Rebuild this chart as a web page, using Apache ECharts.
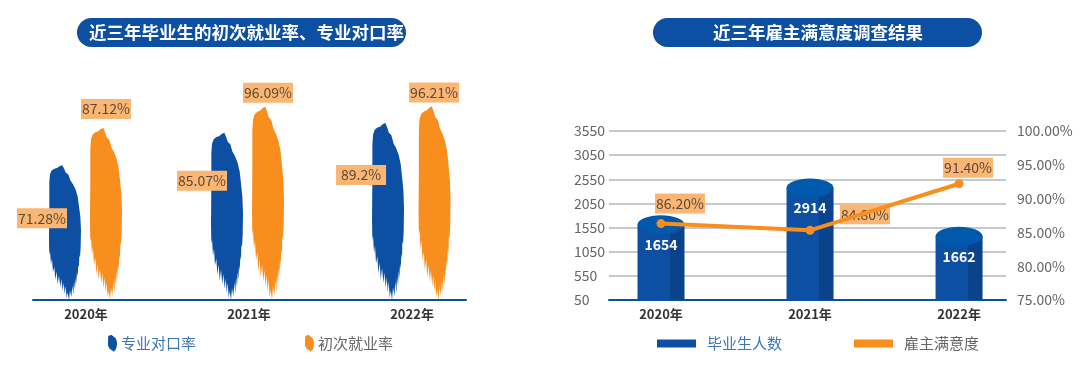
<!DOCTYPE html>
<html>
<head>
<meta charset="utf-8">
<style>
	html, body { margin: 0; padding: 0; background: #fff; }
	#main { width: 1080px; height: 366px; }
</style>
</head>
<body>
<div id="main"></div>
<script src="https://cdn.jsdelivr.net/npm/echarts@6/dist/echarts.min.js"></script>
<script>
var years = [2020, 2021, 2022];

//左图
var matchRate = [71.28, 85.07, 89.2];
var employRate = [87.12, 96.09, 96.21];

//右图 柱高、折线点按图上实际位置读取，和标注的数字并不一致
var graduates = [1610, 2370, 1370];
var graduateLabels = ['1654', '2914', '1662'];
var satisfaction = [86.3, 85.3, 92.2];
var satisfactionLabels = ['86.20%', '84.80%', '91.40%'];

var FONT = '"Noto Sans CJK SC", "Noto Sans", sans-serif';
var BLUE = '#0d4fa2';
var ORANGE = '#f78e1e';
var LABEL_BG = '#fbb673';
var LABEL_COLOR = '#5c4a38';
var BRUSH_MIN = 14; //左图纵轴下限

//笔刷形状
var brushPath = 'M1,50 L3,27 L8,16 L16,11 L24,9 L33,3 L40,1 L46,12 L50,22 L58,28 L64,45 L72,56 L80,72 L86,92 L90,120 L94,150 L96,190 L95,240 L93,270 L91,262 L90,300 L88,290 L86,325 L84,312 L82,345 L80,328 L78,362 L75,340 L73,378 L70,352 L67,385 L63,365 L60,393 L56,372 L53,388 L50,352 L47,376 L44,342 L41,366 L37,332 L34,356 L30,322 L26,348 L23,310 L19,334 L16,296 L12,312 L9,272 L6,290 L3,250 L1,262 L0,215 L1,120 Z';

function pairs(list) {
	return list.map(function(v, i) {
		return [years[i], v];
	});
}

function brushSeries(name, list, color, shifts) {
	return {
		name: name,
		type: 'custom',
		xAxisIndex: 0,
		yAxisIndex: 0,
		itemStyle: { color: color },
		renderItem: function(params, api) {
			var top = api.coord([api.value(0), api.value(1)]);
			var bottom = api.coord([api.value(0), BRUSH_MIN]);
			return {
				type: 'path',
				shape: {
					pathData: brushPath,
					layout: 'cover',
					x: top[0] + shifts[params.dataIndex] - 16,
					y: top[1],
					width: 32,
					height: bottom[1] - top[1]
				},
				style: { fill: color }
			};
		},
		data: pairs(list)
	};
}

//标注单独放一层
function labelSeries(name, list, xAxisIndex, yAxisIndex, z, texts, shifts) {
	return {
		name: name,
		type: 'scatter',
		xAxisIndex: xAxisIndex,
		yAxisIndex: yAxisIndex,
		symbolSize: 0,
		z: z,
		itemStyle: { opacity: 1 },
		label: {
			show: true,
			position: 'inside',
			formatter: function(p) {
				return texts[p.dataIndex];
			},
			fontFamily: FONT,
			fontSize: 14,
			color: LABEL_COLOR,
			backgroundColor: LABEL_BG,
			width: 50,
			height: 20,
			lineHeight: 20,
			align: 'center',
			verticalAlign: 'middle'
		},
		data: pairs(list).map(function(d, i) {
			return { value: d, label: { offset: shifts[i] } };
		})
	};
}

function percentTexts(list) {
	return list.map(function(v) {
		return v + '%';
	});
}

function titleItem(text, left, padLeft, padRight) {
	return {
		text: text,
		left: left,
		top: 18,
		padding: [5, padRight, 5, padLeft],
		backgroundColor: BLUE,
		borderRadius: 15,
		textStyle: {
			color: '#fff',
			fontFamily: FONT,
			fontSize: 17.5,
			fontWeight: 'bold',
			lineHeight: 19
		}
	};
}

function yearAxis(gridIndex, min, max) {
	return {
		type: 'value',
		gridIndex: gridIndex,
		min: min,
		max: max,
		splitLine: { show: false },
		axisTick: { show: false },
		axisLine: { show: true, lineStyle: { color: BLUE, width: 2 } },
		axisLabel: {
			customValues: years,
			formatter: function(v) {
				return v + '年';
			},
			color: '#333',
			fontFamily: FONT,
			fontSize: 13,
			fontWeight: 'bold',
			margin: 8
		}
	};
}

function legendItem(name, color, icon, fill) {
	var item = { name: name, icon: icon, textStyle: { color: color } };
	if(fill) item.itemStyle = { color: fill };
	return item;
}

var option = {
	backgroundColor: '#fff',
	animation: false,
	title: [
		titleItem('近三年毕业生的初次就业率、专业对口率', 77, 12, 2),
		titleItem('近三年雇主满意度调查结果', 653, 60, 59)
	],
	legend: [{
		left: 103,
		top: 330,
		itemWidth: 9,
		itemHeight: 17,
		itemGap: 109,
		symbolKeepAspect: false,
		textStyle: { fontFamily: FONT, fontSize: 15, padding: [0, 0, 0, -1] },
		data: [
			legendItem('专业对口率', '#3e75b8', 'path://' + brushPath),
			legendItem('初次就业率', '#666', 'path://' + brushPath)
		]
	}, {
		left: 652,
		top: 331,
		itemWidth: 39,
		itemHeight: 8,
		itemGap: 72,
		textStyle: { fontFamily: FONT, fontSize: 15, padding: [0, 0, 0, 6] },
		data: [legendItem('毕业生人数', '#3e75b8', 'rect', BLUE), legendItem('雇主满意度', '#666', 'rect')]
	}],
	grid: [
		{ left: 33, width: 433, top: 100, height: 200 },
		{ left: 609, width: 397, top: 131, height: 169 }
	],
	xAxis: [
		yearAxis(0, 2019.675, 2022.331),
		yearAxis(1, 2019.651, 2022.315)
	],
	yAxis: [{
		//左图没有可见的纵轴
		type: 'value',
		gridIndex: 0,
		min: BRUSH_MIN,
		max: 99,
		show: false
	}, {
		type: 'value',
		gridIndex: 1,
		min: 50,
		max: 3550,
		interval: 500,
		axisLine: { show: false },
		axisTick: { show: false },
		splitLine: { lineStyle: { color: '#c6c8cf', width: 2 } },
		axisLabel: {
			color: '#666',
			fontFamily: FONT,
			fontSize: 14,
			align: 'left',
			margin: 35,
			formatter: function(v) {
				return String(v);
			}
		}
	}, {
		type: 'value',
		gridIndex: 1,
		position: 'right',
		min: 75,
		max: 100,
		interval: 5,
		axisLine: { show: false },
		axisTick: { show: false },
		splitLine: { show: false },
		axisLabel: {
			color: '#666',
			fontFamily: FONT,
			fontSize: 14,
			align: 'left',
			margin: 11,
			formatter: function(v) {
				return v.toFixed(2) + '%';
			}
		}
	}],
	series: [
		brushSeries('专业对口率', matchRate, BLUE, [-21, -22, -24]),
		brushSeries('初次就业率', employRate, ORANGE, [20, 19, 22.5]),
		labelSeries('专业对口率标注', matchRate, 0, 0, 3, percentTexts(matchRate), [[-44, 53], [-47, 48], [-51, 52]]),
		labelSeries('初次就业率标注', employRate, 0, 0, 3, percentTexts(employRate), [[20, -19], [19, -14], [22, -14]]),
	{
		name: '毕业生人数',
		type: 'bar',
		xAxisIndex: 1,
		yAxisIndex: 1,
		barWidth: 47,
		z: 2,
		itemStyle: {
			color: {
				type: 'linear', x: 0, y: 0, x2: 1, y2: 0,
				colorStops: [
					{ offset: 0, color: BLUE },
					{ offset: 0.69, color: BLUE },
					{ offset: 0.69, color: '#0b428c' },
					{ offset: 1, color: '#0b428c' }
				]
			}
		},
		data: pairs(graduates)
	}, {
		//柱顶的椭圆，数字挂在这里
		name: '柱顶',
		type: 'scatter',
		xAxisIndex: 1,
		yAxisIndex: 1,
		symbol: 'circle',
		symbolSize: [47, 19],
		z: 3,
		itemStyle: { color: '#0059aa', opacity: 1 },
		label: {
			show: true,
			position: 'inside',
			offset: [0, 20],
			color: '#fff',
			fontFamily: FONT,
			fontSize: 14,
			fontWeight: 'bold',
			formatter: function(p) {
				return graduateLabels[p.dataIndex];
			}
		},
		data: pairs(graduates)
	},
		//折线要压在标注上面
		labelSeries('满意度标注', satisfaction, 1, 2, 4, satisfactionLabels, [[19, -20], [55, -16], [9, -16]]),
	{
		name: '雇主满意度',
		type: 'line',
		xAxisIndex: 1,
		yAxisIndex: 2,
		z: 5,
		symbol: 'circle',
		symbolSize: 9,
		lineStyle: { color: ORANGE, width: 4 },
		itemStyle: { color: ORANGE },
		data: pairs(satisfaction)
	}]
};

var myChart = echarts.init(document.getElementById('main'));
myChart.setOption(option);
</script>
</body>
</html>
